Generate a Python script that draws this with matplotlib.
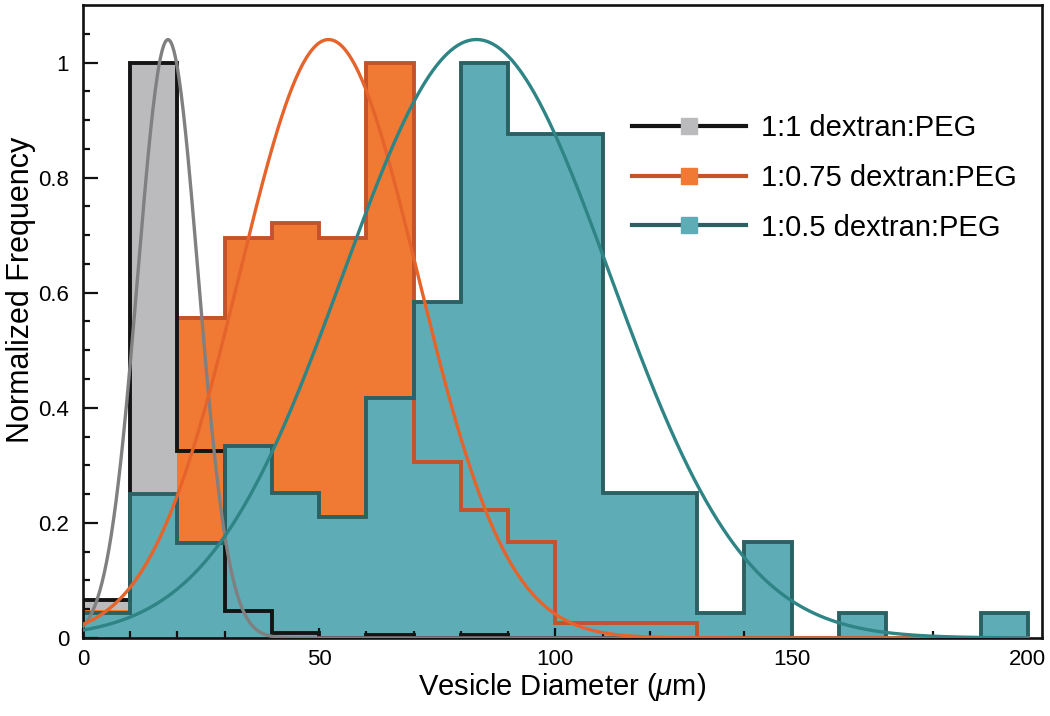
import numpy as np
import matplotlib
matplotlib.use('Agg')
import matplotlib.pyplot as plt
from matplotlib.lines import Line2D


# 直方图数据（每 10 um 一个 bin，已归一化）
bin_edges = list(range(0, 201, 10))
freq_1_1 = [0.066, 1.0, 0.325, 0.047, 0.008, 0, 0.005, 0, 0.005, 0,
            0, 0, 0, 0, 0, 0, 0, 0, 0, 0]
freq_1_075 = [0.048, 0, 0.556, 0.695, 0.722, 0.695, 1.0, 0.306, 0.222, 0.167,
              0.026, 0.026, 0.026, 0, 0, 0, 0, 0, 0, 0]
freq_1_05 = [0.043, 0.25, 0.165, 0.334, 0.252, 0.211, 0.417, 0.583, 1.0, 0.875,
             0.875, 0.252, 0.252, 0.043, 0.167, 0, 0.043, 0, 0, 0.043]

# 高斯拟合参数：峰高、中心、sigma
fit_peak = [1.04, 1.04, 1.04]
fit_center = [18.0, 52.0, 83.3]
fit_sigma = [6.4, 18.9, 28.3]

labels = ['1:1 dextran:PEG', '1:0.75 dextran:PEG', '1:0.5 dextran:PEG']
fill_colors = ['#bbbbbd', '#f07a33', '#5eadb6']
edge_colors = ['#141414', '#c4522a', '#2b6163']
fit_colors = ['#808080', '#e5642c', '#2f8486']

plt.rcParams['font.family'] = ['Liberation Sans', 'DejaVu Sans']
plt.rcParams['mathtext.fontset'] = 'custom'
plt.rcParams['mathtext.rm'] = 'Liberation Sans'
plt.rcParams['mathtext.it'] = 'Liberation Sans:italic'

fig = plt.figure(figsize=(10.5, 7.16), dpi=100)
ax = fig.add_axes([0.079, 0.109, 0.9133, 0.884])

series = [freq_1_1, freq_1_075, freq_1_05]

# 填充：灰、橙、青依次叠加
for vals, fc in zip(series, fill_colors):
    ax.stairs(vals, bin_edges, fill=True, color=fc, lw=0, zorder=1)

# 轮廓线。橙色前三个 bin 的轮廓被青色填充盖住，其余在上面
ax.stairs(freq_1_075[:3], bin_edges[:4], baseline=None, color=edge_colors[1],
          lw=2.8, zorder=0.9)
ax.stairs(freq_1_075[2:], bin_edges[2:], baseline=None, color=edge_colors[1],
          lw=2.8, zorder=2)
ax.stairs(freq_1_1, bin_edges, color=edge_colors[0], lw=2.8, zorder=2)
ax.stairs(freq_1_05, bin_edges, color=edge_colors[2], lw=2.8, zorder=2.1)

x = np.linspace(0, 200, 800)
for a, mu, s, c in zip(fit_peak, fit_center, fit_sigma, fit_colors):
    ax.plot(x, a * np.exp(-(x - mu) ** 2 / (2 * s ** 2)), color=c, lw=2.4, zorder=3)

ax.set_xlim(0, 203)
ax.set_ylim(0, 1.1)
ax.set_xticks([0, 50, 100, 150, 200])
ax.set_xticklabels(['0', '50', '100', '150', '200'])
ax.set_xticks(np.arange(0, 201, 10), minor=True)
ax.set_yticks([0, 0.2, 0.4, 0.6, 0.8, 1.0])
ax.set_yticklabels(['0', '0.2', '0.4', '0.6', '0.8', '1'])
ax.set_yticks(np.arange(0, 1.06, 0.05), minor=True)
ax.tick_params(which='both', direction='in', width=1.6, labelsize=16, color='#111111')
ax.tick_params(axis='x', which='major', length=7, pad=8)
ax.tick_params(axis='x', which='minor', length=5)
ax.tick_params(axis='y', which='major', length=11, pad=10)
ax.tick_params(axis='y', which='minor', length=5)
for sp in ax.spines.values():
    sp.set_linewidth(1.9)
    sp.set_color('#111111')

ax.set_xlabel(r'Vesicle Diameter ($\mu$m)', fontsize=21, labelpad=1)
ax.set_ylabel('Normalized Frequency', fontsize=22)
ax.yaxis.set_label_coords(-0.049, 0.55)

handles = [Line2D([], [], color=ec, lw=3, marker='s', markersize=11,
                  markerfacecolor=fc, markeredgecolor=fc)
           for fc, ec in zip(fill_colors, edge_colors)]
ax.legend(handles, labels, loc='upper left', bbox_to_anchor=(0.573, 0.828),
          frameon=False, fontsize=21, handlelength=3.9, handletextpad=0.5,
          labelspacing=0.75, borderpad=0, borderaxespad=0)

fig.savefig('out.png', dpi=100)
